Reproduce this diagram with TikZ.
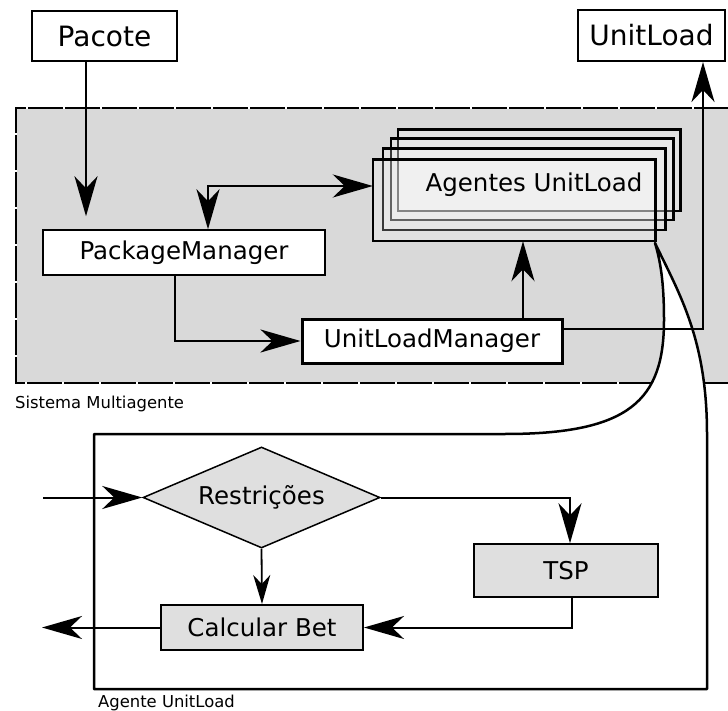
\documentclass[tikz,border=0pt]{standalone}
\usepackage{fontspec}
\setmainfont{DejaVu Sans}
\usetikzlibrary{arrows.meta,shapes.geometric}

\definecolor{masfill}{HTML}{D9D9D9}
\definecolor{procfill}{HTML}{DFDFDF}

\tikzset{
  bigtip/.tip={Stealth[length=40pt,width=23pt,inset=12pt]},
  smalltip/.tip={Stealth[length=29pt,width=17pt,inset=9pt]},
  conn/.style={line width=2.5pt,-bigtip},
  lowconn/.style={line width=2pt,-bigtip},
  box/.style={draw,inner sep=0pt,font=\fontsize{24.5}{28}\selectfont},
  extbox/.style={draw,fill=white,line width=2pt,inner sep=0pt,font=\fontsize{28}{32}\selectfont},
  agbox/.style={minimum width=282pt,minimum height=81pt,inner sep=0pt},
  agveil/.style={fill=white,fill opacity=0.22},
  agedge/.style={draw=black,line width=2.6pt},
  caption/.style={inner sep=0pt,anchor=base west,font=\fontsize{16.4}{19}\selectfont},
  frame/.style={draw,fill=white,line width=2.5pt,line join=round},
}

\begin{document}
\begin{tikzpicture}[x=1pt,y=-1pt]
\useasboundingbox (0,0) rectangle (728,711);

% multi-agent system area
\fill[masfill] (16,108) rectangle (729,383);
\draw[white,line width=1.3pt] (729,108) -- (16,108) -- (16,383) -- (729,383);
\draw[black,line width=1.3pt,dash pattern=on 35pt off 2pt] (729,108) -- (16,108) -- (16,383) -- (729,383);
\node[caption] (maslbl) at (15,408) {Sistema Multiagente};

% detail frame of a UnitLoad agent, with its callout
\draw[frame] (94,434) -- (505,434)
  .. controls (630,434) and (664,400) .. (664,320)
  .. controls (664,280) and (660,260) .. (655,243)
  .. controls (680,295) and (707,340) .. (707,434)
  -- (707,689) -- (94,689) -- cycle;
\node[caption] (agentlbl) at (98,707) {Agente UnitLoad};

% external items
\node[extbox,minimum width=145pt,minimum height=50pt] (pacote) at (104.5,36) {Pacote};
\node[extbox,minimum width=147pt,minimum height=51pt] (unitload) at (651.5,35.5) {UnitLoad};

% managers
\node[box,fill=white,line width=1.5pt,minimum width=282pt,minimum height=45pt] (pm) at (184,252.5) {PackageManager};
\node[box,fill=white,line width=3pt,minimum width=260pt,minimum height=44pt] (ulm) at (432,341) {UnitLoadManager};

% stack of UnitLoad agents: each sheet veils the ones behind it
\node[agbox] (a4) at (539,170.5) {};
\node[agbox] (a3) at (532,179.5) {};
\node[agbox] (a2) at (524,189.5) {};
\node[agbox] (a1) at (514,200.5) {};
\foreach \s in {a4,a3,a2,a1}{
  \fill[agveil] (\s.south west) rectangle (\s.north east);
  \draw[agedge] (\s.south west) rectangle (\s.north east);
}
\node[inner sep=0pt,font=\fontsize{24.5}{28}\selectfont] (agtxt) at (534,185) {Agentes UnitLoad};

% agent internals
\node[box,diamond,aspect=2.35,fill=procfill,line width=1.5pt,minimum width=237pt,minimum height=101pt] (restr) at (261.5,497.5) {Restrições};
\node[box,fill=procfill,line width=1.5pt,minimum width=184pt,minimum height=53pt] (tsp) at (566,570.5) {TSP};
\node[box,fill=procfill,line width=2pt,minimum width=202pt,minimum height=45pt] (calc) at (262,627.5) {Calcular Bet};
\coordinate (inL) at (43,497.5);
\coordinate (outL) at (42,627.5);

% connectors of the multi-agent system
\draw[conn,shorten >=13pt] ([xshift=-18.5pt]pacote.south) -- ([xshift=-18.5pt]pacote.south |- pm.north);
\draw[line width=2.5pt,bigtip-bigtip] ([xshift=24pt]pm.north) |- ([yshift=14.5pt]a1.west);
\draw[conn] ([xshift=-9pt]pm.south) |- (ulm.west);
\draw[conn] ([xshift=91pt]ulm.north) -- ([xshift=91pt]ulm.north |- a1.south);
\draw[conn] ([yshift=12pt]ulm.east) -| ([xshift=51.5pt]unitload.south);

% connectors inside the agent
\draw[lowconn] (inL) -- (restr.west);
\draw[lowconn] (restr.east) -| ([xshift=4pt]tsp.north);
\draw[lowconn] ([xshift=6pt]tsp.south) |- (calc.east);
\draw[line width=1.8pt,-smalltip] (restr.south) -- (calc.north);
\draw[lowconn] (calc.west) -- (outL);
\end{tikzpicture}
\end{document}
